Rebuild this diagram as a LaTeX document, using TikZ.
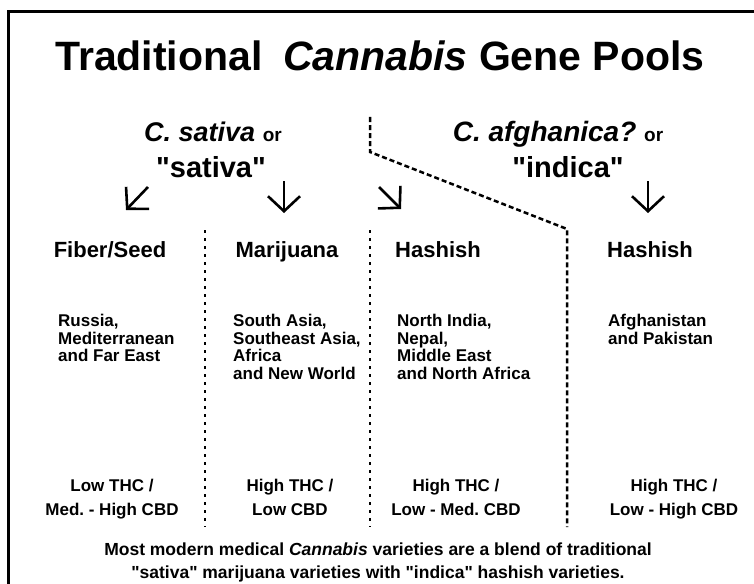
\documentclass[tikz,border=0pt]{standalone}
\usepackage{fontspec}
\setmainfont{Liberation Sans}
\usetikzlibrary{positioning,arrows.meta}
\frenchspacing

\tikzset{
  colhead/.style={font=\fontsize{22}{26}\selectfont\bfseries, anchor=base, inner sep=0pt},
  region/.style={font=\fontsize{17}{17.5}\selectfont\bfseries, align=left, anchor=north west, inner sep=0pt},
  potency/.style={font=\fontsize{17}{24}\selectfont\bfseries, align=center, anchor=north, inner sep=0pt},
  divider/.style={line width=2.5pt, dash pattern=on 3pt off 5pt},
  pointer/.style={line width=2.6pt, -{Straight Barb[length=15pt,width=32pt]}},
}

\begin{document}
\begin{tikzpicture}[x=1pt,y=-1pt]
  \useasboundingbox (0,0) rectangle (754,583);
  % frame, open to the right and the bottom
  \draw[line width=3pt] (8,600) -- (8,12) -- (770,12);

  \node[anchor=base, inner sep=0pt, font=\fontsize{41}{44}\selectfont\bfseries] (title) at (380,71)
    {Traditional\hspace{0.5em}\textit{Cannabis} Gene Pools};

  \node[anchor=base, inner sep=0pt, font=\fontsize{27}{30}\selectfont\bfseries] (sat) at (213,141)
    {\textit{C. sativa} {\fontsize{19}{20}\selectfont or}};
  \node[anchor=base, inner sep=0pt, font=\fontsize{29}{32}\selectfont\bfseries] (satq) at (211,177)
    {\textquotedbl sativa\textquotedbl};
  \node[anchor=base, inner sep=0pt, font=\fontsize{28}{30}\selectfont\bfseries] (afg) at (558,141)
    {\textit{C. afghanica?} {\fontsize{19}{20}\selectfont or}};
  \node[anchor=base, inner sep=0pt, font=\fontsize{29}{32}\selectfont\bfseries] (indq) at (568,177)
    {\textquotedbl indica\textquotedbl};

  % column heads
  \node[colhead] (fiber) at (110,257) {Fiber/Seed};
  \node[colhead] (mari) at (287,257) {Marijuana};
  \node[colhead] (hash) at (438,257) {Hashish};
  \node[colhead] (hashb) at (650,257) {Hashish};

  % arrows
  \coordinate (a1) at (148,187); \coordinate (b1) at (126,210);
  \coordinate (a2) at (284,181); \coordinate (b2) at (284,213);
  \coordinate (a3) at (379,187); \coordinate (b3) at (401,209);
  \coordinate (a4) at (648,181); \coordinate (b4) at (648,213);
  \draw[pointer] (a1) -- (b1);
  \draw[pointer] (a2) -- (b2);
  \draw[pointer] (a3) -- (b3);
  \draw[pointer] (a4) -- (b4);

  % separators
  \coordinate (s1) at (370,117);
  \coordinate (s2) at (370,152);
  \coordinate (s3) at (567,229);
  \coordinate (s4) at (567,527);
  \draw[line width=2.5pt, dash pattern=on 5pt off 3pt] (s1) -- (s2) -- (s3) -- (s4);
  \draw[divider] (205,230) -- (205,527);
  \draw[divider] (370,230) -- (370,527);

  % regions
  \node[region] (reg1) at (58,314) {Russia,\\Mediterranean\\and Far East};
  \node[region] (reg2) at (233,314) {South Asia,\\Southeast Asia,\\Africa\\and New World};
  \node[region] (reg3) at (397,314) {North India,\\Nepal,\\Middle East\\and North Africa};
  \node[region] (reg4) at (608,314) {Afghanistan\\and Pakistan};

  % THC / CBD
  \node[potency] (pot1) at (112,479) {Low THC /\\Med. - High CBD};
  \node[potency] (pot2) at (290,479) {High THC /\\Low CBD};
  \node[potency] (pot3) at (456,479) {High THC /\\Low - Med. CBD};
  \node[potency] (pot4) at (674,479) {High THC /\\Low - High CBD};

  \node[anchor=north, inner sep=0pt, align=center, font=\fontsize{17.5}{22.5}\selectfont\bfseries] (note) at (378,543)
    {Most modern medical \textit{Cannabis} varieties are a blend of traditional\\
     \textquotedbl sativa\textquotedbl{} marijuana varieties with \textquotedbl indica\textquotedbl{} hashish varieties.};
\end{tikzpicture}
\end{document}
